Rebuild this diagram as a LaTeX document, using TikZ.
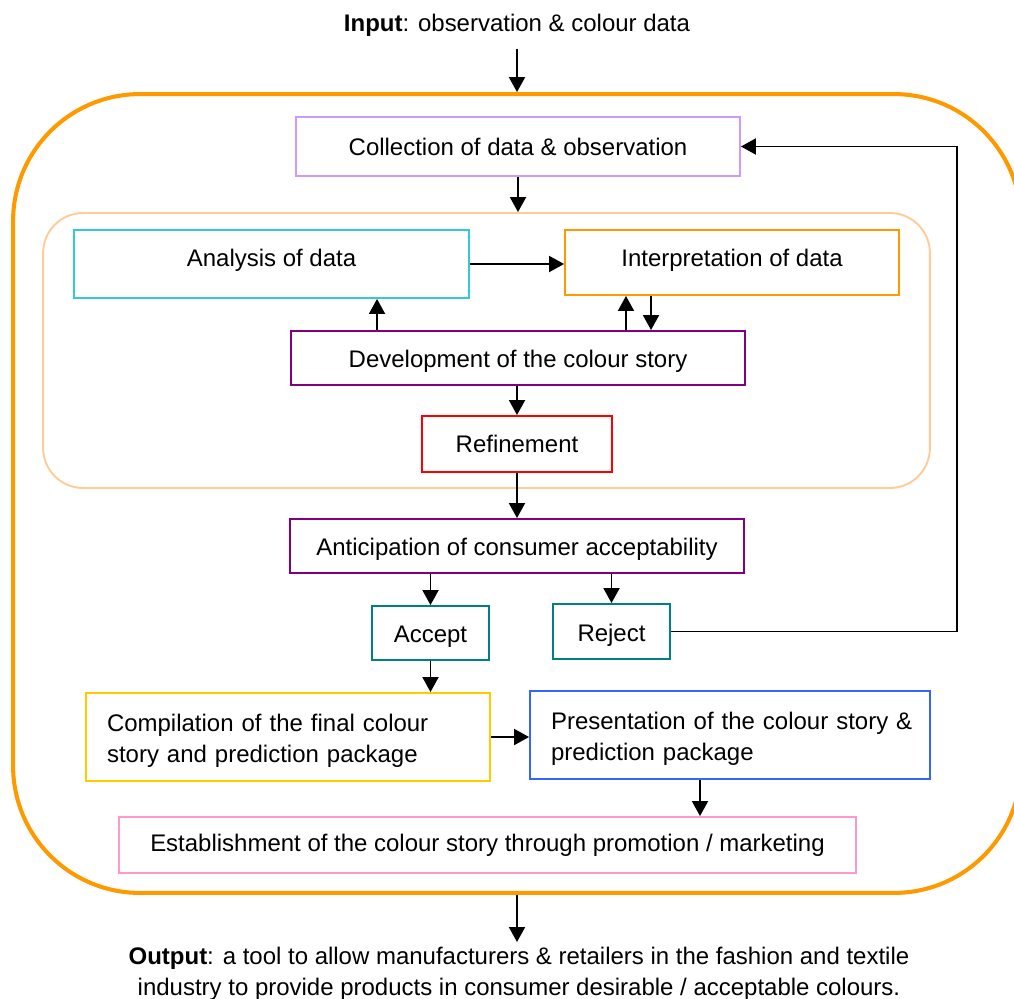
\documentclass[tikz,border=0pt]{standalone}
\usepackage{fontspec}
\setmainfont{Liberation Sans}
\usetikzlibrary{arrows.meta}

\definecolor{lilac}{HTML}{CC99FF}
\definecolor{aqua}{HTML}{33CCCC}
\definecolor{amber}{HTML}{FF9900}
\definecolor{plum}{HTML}{800080}
\definecolor{tealc}{HTML}{008080}
\definecolor{gold}{HTML}{FFCC00}
\definecolor{royal}{HTML}{3366FF}
\definecolor{rose}{HTML}{FF99CC}
\definecolor{peach}{HTML}{FFCC99}

% text set a little lower in its box, keeping the box's own extents
\newcommand{\lowered}[1]{\raisebox{-0.07cm}[\height][\depth]{#1}}
% two left-aligned lines, set the same way
\newcommand{\twolines}[2]{\lowered{\begin{tabular}{@{}l@{}}#1\\#2\end{tabular}}}

\tikzset{
  box/.style={draw, line width=1.1pt, rectangle, inner sep=0pt, align=center},
  widebox/.style={box, align=left, inner xsep=0.42cm, minimum height=1.76cm},
  arr/.style={line width=1.1pt, -{Triangle[length=0.3cm, width=0.32cm]}},
  frame/.style={draw, rectangle, inner sep=0pt},
}

\begin{document}
\begin{tikzpicture}[x=0.02cm, y=-0.02cm, font=\fontsize{13.65pt}{17.6pt}\selectfont]
\clip (0,0) rectangle (1014,998);

% surrounding process frames
\node[frame, draw=amber, line width=2.3pt, rounded corners=2.54cm,
      minimum width=20.16cm, minimum height=15.98cm] (outer) at (517,493.5) {};
\node[frame, draw=peach, line width=1.1pt, rounded corners=0.8cm,
      minimum width=17.74cm, minimum height=5.5cm] (grp) at (486.5,350.5) {};

% input and output
\node[inner sep=0.24cm] (in) at (517,25) {\textbf{Input}: observation \& colour data};
\node[anchor=north, inner sep=0.1cm, align=center] (out) at (519,942)
  {\textbf{Output}: a tool to allow manufacturers \& retailers in the fashion and textile\\
   industry to provide products in consumer desirable / acceptable colours.};

% process steps
\node[box, draw=lilac, minimum width=8.88cm, minimum height=1.18cm] (col) at (518,146.5)
  {Collection of data \& observation};
\node[box, draw=aqua, minimum width=7.9cm, minimum height=1.36cm] (ana) at (271.5,264)
  {\raisebox{0.24cm}{Analysis of data}};
\node[box, draw=amber, minimum width=6.68cm, minimum height=1.3cm] (int) at (732,262.5)
  {\raisebox{0.18cm}{Interpretation of data}};
\node[box, draw=plum, minimum width=9.08cm, minimum height=1.08cm] (dev) at (518,358)
  {\lowered{Development of the colour story}};
\node[box, draw=red, minimum width=3.8cm, minimum height=1.12cm] (ref) at (517,444)
  {Refinement};
\node[box, draw=plum, minimum width=9.08cm, minimum height=1.08cm] (ant) at (517,546)
  {\lowered{Anticipation of consumer acceptability}};
\node[box, draw=tealc, minimum width=2.34cm, minimum height=1.08cm] (acc) at (430.5,633)
  {\lowered{Accept}};
\node[box, draw=tealc, minimum width=2.34cm, minimum height=1.1cm] (rej) at (611.5,631.5)
  {\lowered{Reject}};
\node[widebox, draw=gold, text width=7.24cm] (com) at (288,737)
  {\twolines{Compilation of the final colour}{story and prediction package}};
\node[widebox, draw=royal, text width=7.16cm] (pre) at (730,735)
  {\twolines{Presentation of the colour story \&}{prediction package}};
\node[box, draw=rose, minimum width=14.74cm, minimum height=1.12cm] (est) at (487.5,845)
  {Establishment of the colour story through promotion / marketing};

\coordinate (loop) at (957,0);

% connectors
\draw[arr] (in.south) -- (in.south |- outer.north);
\draw[arr] (col.south) -- (col.south |- grp.north);
\draw[arr] (ana.east) -- (ana.east -| int.west);
\draw[arr] ([xshift=-2.82cm]dev.north) coordinate (d1) -- (d1 |- ana.south);
\draw[arr] ([xshift=2.16cm]dev.north) coordinate (d2) -- (d2 |- int.south);
\draw[arr] ([xshift=-1.62cm]int.south) coordinate (i1) -- (i1 |- dev.north);
\draw[arr] (dev.south -| ref.north) -- (ref.north);
\draw[arr] (ref.south) -- (ref.south |- ant.north);
\draw[arr] (acc.north |- ant.south) -- (acc.north);
\draw[arr] (rej.north |- ant.south) -- (rej.north);
\draw[arr] (rej.east) -| (loop |- col.east) -- (col.east);
\draw[arr] (acc.south) -- (acc.south |- com.north);
\draw[arr] (com.east) -- (com.east -| pre.west);
\draw[arr] ([xshift=-0.6cm]pre.south) coordinate (p1) -- (p1 |- est.north);
\draw[arr] (outer.south) -- (outer.south |- out.north);
\end{tikzpicture}
\end{document}
